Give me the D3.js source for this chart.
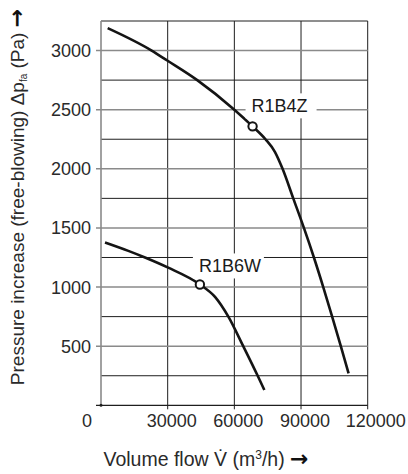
<!DOCTYPE html>
<html><head><meta charset="utf-8">
<script src="https://cdn.jsdelivr.net/npm/d3@7"></script>
<style>
html,body{margin:0;padding:0;background:#fff;}
svg{display:block;font-family:"Liberation Sans",Arial,Helvetica,sans-serif;}
</style></head>
<body>
<svg id="chart" width="408" height="474"></svg>
<script>
// ---- data ----
const xTicks = [0, 30000, 60000, 90000, 120000];
const yTicks = [0, 500, 1000, 1500, 2000, 2500, 3000];
const yMinor = [250, 750, 1250, 1750, 2250, 2750, 3250];
const seriesNames = ["R1B4Z", "R1B6W"];
const r1b4zFlow = [3000, 22800, 29800, 43300, 60000, 68200, 74000, 78300, 81700, 86500, 91300, 95800, 100000, 104000, 107900, 111400];
const r1b4zPressure = [3190, 3000, 2916, 2750, 2500, 2359, 2250, 2142, 2000, 1750, 1500, 1250, 1000, 750, 500, 270];
const r1b6wFlow = [1800, 12300, 19800, 30000, 44500, 51300, 57300, 64000, 70500, 73500];
const r1b6wPressure = [1377, 1306, 1250, 1166, 1022, 917, 750, 500, 250, 129];
const markerFlow = [68200, 44500];
const markerPressure = [2359, 1022];

// ---- layout ----
const svg = d3.select("#chart");
const x = d3.scaleLinear().domain([0, 120000]).range([101, 367.7]);
const y = d3.scaleLinear().domain([0, 3250]).range([405.3, 21]);
const ink = "#1e1e1e";
const textCol = "#2a2a2a";

// vertical grid lines (with small ticks below the axis)
svg.append("g").selectAll("line").data(xTicks.slice(1)).join("line")
  .attr("x1", d => x(d)).attr("x2", d => x(d))
  .attr("y1", y(3250)).attr("y2", y(0) + 4)
  .attr("stroke", ink).attr("stroke-width", 1);

// minor horizontal lines
svg.append("g").selectAll("line").data(yMinor).join("line")
  .attr("x1", x(0)).attr("x2", x(120000))
  .attr("y1", d => y(d)).attr("y2", d => y(d))
  .attr("stroke", ink).attr("stroke-width", 1);

// major horizontal lines (grey) with tick marks to the left
svg.append("g").selectAll("line").data(yTicks.slice(1)).join("line")
  .attr("x1", x(0) - 5).attr("x2", x(120000))
  .attr("y1", d => y(d)).attr("y2", d => y(d))
  .attr("stroke", "#8a8a8a").attr("stroke-width", 1.6);

// left axis line
svg.append("line").attr("x1", x(0)).attr("x2", x(0)).attr("y1", y(3250)).attr("y2", y(0))
  .attr("stroke", "#8a8a8a").attr("stroke-width", 1.6);
// bottom axis line
svg.append("line").attr("x1", x(0) - 5).attr("x2", x(120000)).attr("y1", y(0)).attr("y2", y(0))
  .attr("stroke", ink).attr("stroke-width", 1.2);
svg.append("circle").attr("cx", x(0)).attr("cy", y(0)).attr("r", 1.5).attr("fill", ink);

// y tick labels
svg.append("g").selectAll("text").data(yTicks.slice(1)).join("text")
  .attr("x", 91).attr("y", d => y(d)).attr("dy", 6.5)
  .attr("text-anchor", "end").attr("font-size", 18).attr("fill", textCol)
  .text(d => d);

// x tick labels
svg.append("g").selectAll("text").data(xTicks).join("text")
  .attr("x", d => x(d) + (d === 0 ? -14 : (d === 120000 ? 8 : 4)))
  .attr("y", 426.7)
  .attr("text-anchor", "middle").attr("font-size", 18).attr("fill", textCol)
  .text(d => d);

// curves
const line = d3.line().x(d => x(d[0])).y(d => y(d[1])).curve(d3.curveMonotoneX);
const curves = [d3.zip(r1b4zFlow, r1b4zPressure), d3.zip(r1b6wFlow, r1b6wPressure)];
svg.append("g").selectAll("path").data(curves).join("path")
  .attr("d", line).attr("fill", "none").attr("stroke", "#141414").attr("stroke-width", 2.6)
  .attr("stroke-linecap", "butt");

// labels with white boxes
const lab = svg.append("g").selectAll("g").data(seriesNames).join("g")
  .attr("transform", (d, i) => `translate(${x(markerFlow[i]) - 1},${y(markerPressure[i]) - (i === 0 ? 14 : 12)})`);
lab.append("rect").attr("x", -6).attr("y", -19).attr("width", 71).attr("height", 25).attr("fill", "#fff");
lab.append("text").attr("x", 0).attr("y", 0).attr("font-size", 18).attr("fill", "#1a1a1a").text(d => d);

// markers
svg.append("g").selectAll("circle").data(markerFlow).join("circle")
  .attr("cx", d => x(d)).attr("cy", (d, i) => y(markerPressure[i])).attr("r", 4.2)
  .attr("fill", "#fff").attr("stroke", "#141414").attr("stroke-width", 2);

// axis titles
const xt = svg.append("text").attr("x", 206).attr("y", 466.3).attr("text-anchor", "middle")
  .attr("font-size", 19.5).attr("fill", textCol);
xt.append("tspan").text("Volume flow V\u0307 (m");
xt.append("tspan").attr("font-size", 12).attr("baseline-shift", "7").text("3");
xt.append("tspan").text("/h) ");
xt.append("tspan").attr("font-family", "DejaVu Sans").attr("font-weight", "bold")
  .attr("font-size", 22).attr("fill", "#111").text("\u2192");

const yt = svg.append("text").attr("transform", "translate(23.5,197) rotate(-90)").attr("text-anchor", "middle")
  .attr("font-size", 19).attr("fill", textCol);
yt.append("tspan").text("Pressure increase (free-blowing) \u0394p");
yt.append("tspan").attr("font-size", 10).attr("baseline-shift", "-3").text("fa");
yt.append("tspan").text(" (Pa) ");
yt.append("tspan").attr("font-family", "DejaVu Sans").attr("font-weight", "bold")
  .attr("font-size", 22).attr("fill", "#111").text("\u2192");
</script>
</body></html>
